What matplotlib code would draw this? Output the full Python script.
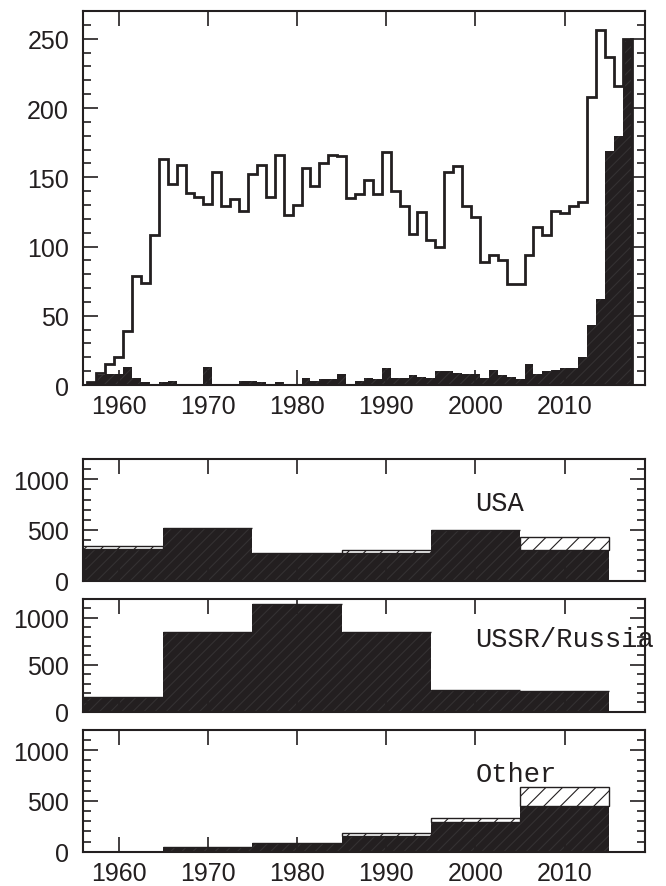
import matplotlib.pyplot as plt
import numpy as np
from matplotlib.ticker import MultipleLocator, NullLocator

plt.rcParams['font.family'] = ['Liberation Sans', 'DejaVu Sans']
plt.rcParams['hatch.linewidth'] = 0.8

# yearly counts, top panel
years = np.arange(1957, 2018)
total = [2, 9, 15, 20, 39, 79, 74, 108, 163, 145,
         159, 139, 136, 131, 154, 129, 134, 126, 152, 159,
         136, 166, 123, 130, 157, 144, 160, 166, 165, 135,
         138, 148, 138, 168, 140, 129, 109, 125, 105, 100,
         154, 158, 129, 121, 89, 94, 90, 73, 73, 94,
         114, 108, 126, 124, 129, 132, 208, 256, 237, 216,
         250]
filled = [2, 7, 8, 8, 13, 5, 2, 1, 2, 3,
          0, 0, 0, 13, 0, 0, 0, 3, 3, 2,
          1, 2, 1, 1, 5, 3, 4, 4, 8, 0,
          3, 5, 4, 12, 5, 5, 7, 6, 5, 10,
          10, 9, 8, 8, 5, 11, 7, 6, 4, 15,
          8, 10, 11, 12, 12, 20, 43, 62, 169, 180,
          249]

# decade bins, lower panels
dec_start = [1955, 1965, 1975, 1985, 1995, 2005]
usa_filled = [315, 518, 269, 277, 502, 302]
usa_total = [345, 518, 269, 302, 502, 433]
ussr_filled = [153, 845, 1147, 852, 234, 217]
ussr_total = [153, 845, 1147, 852, 234, 217]
other_filled = [0, 50, 86, 158, 291, 455]
other_total = [0, 50, 86, 180, 334, 637]
panel_names = ['USA', 'USSR/Russia', 'Other']

dark = '#231f20'
texture = '#343132'


def style_axes(ax, ymajor, yminor, xlabels=True):
    ax.set_xlim(1956, 2019)
    ax.xaxis.set_major_locator(MultipleLocator(10))
    ax.xaxis.set_minor_locator(NullLocator())
    ax.yaxis.set_major_locator(MultipleLocator(ymajor))
    ax.yaxis.set_minor_locator(MultipleLocator(yminor))
    ax.tick_params(which='both', direction='in', top=True, right=True,
                   width=1.2, labelsize=18, colors=dark)
    ax.tick_params(which='major', length=10.5)
    ax.tick_params(which='minor', length=5.8)
    ax.tick_params(axis='y', pad=10)
    ax.tick_params(axis='x', pad=6.5, labelbottom=xlabels)
    for s in ax.spines.values():
        s.set_linewidth(1.5)
        s.set_color(dark)


fig = plt.figure(figsize=(6.66, 8.87), dpi=100)

# top panel
ax = fig.add_axes([0.1246, 0.5648, 0.8438, 0.4216])
ax.bar(years, filled, width=1.0, color=dark, edgecolor=texture,
       hatch='///', linewidth=0)
edges = np.append(years - 0.5, years[-1] + 0.5)
ax.stairs(total, edges, color=dark, linewidth=2.0)
ax.set_ylim(0, 270)
style_axes(ax, 50, 10)

# lower panels
boxes = [[0.1246, 0.3442, 0.8438, 0.1372],
         [0.1246, 0.1965, 0.8438, 0.1271],
         [0.1246, 0.0387, 0.8438, 0.1372]]
fills = [usa_filled, ussr_filled, other_filled]
totals = [usa_total, ussr_total, other_total]
for i in range(3):
    ax = fig.add_axes(boxes[i])
    f = np.array(fills[i])
    t = np.array(totals[i])
    ax.bar(dec_start, f, width=10, align='edge', color=dark,
           edgecolor=texture, hatch='///', linewidth=0)
    ax.bar(dec_start, t - f, bottom=f, width=10, align='edge',
           facecolor='white', edgecolor=dark, hatch='//', linewidth=1.0)
    ax.set_ylim(0, 1200)
    style_axes(ax, 500, 100, xlabels=(i == 2))
    ax.text(2000, 700, panel_names[i], family=['Liberation Mono', 'DejaVu Sans Mono'],
            fontsize=19.5, va='baseline', ha='left', color=dark, clip_on=False)

fig.savefig('out.png', dpi=100)
